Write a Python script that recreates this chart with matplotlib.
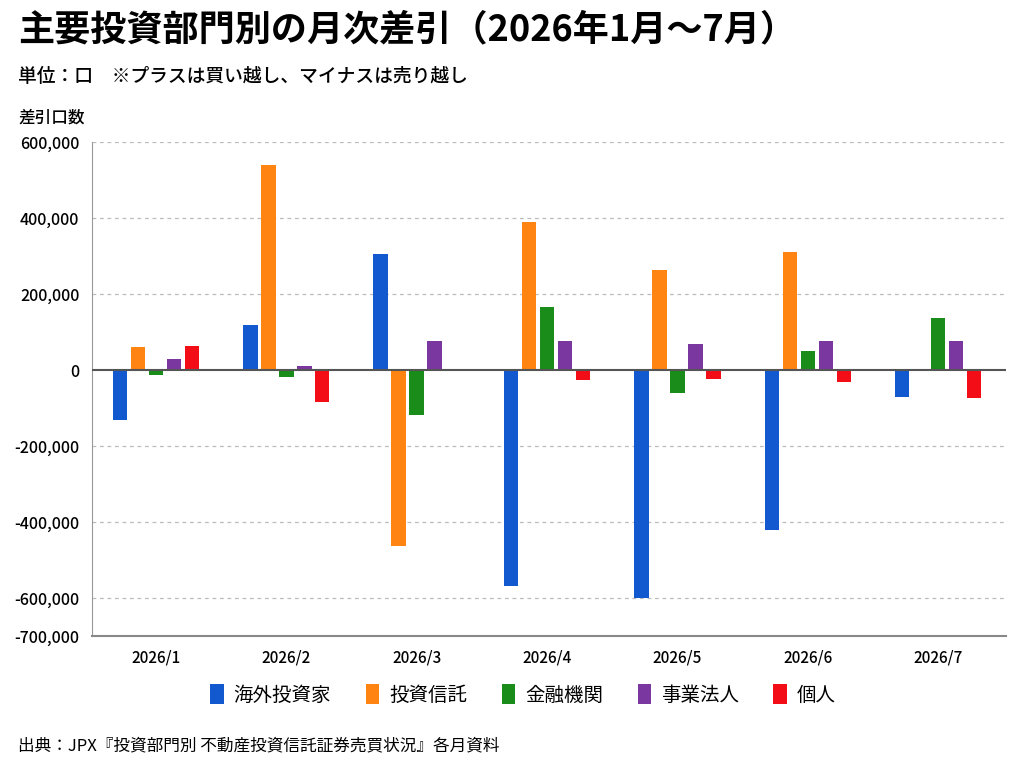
import numpy as np
import matplotlib
matplotlib.use('Agg')
import matplotlib.pyplot as plt

plt.rcParams['font.family'] = ['Noto Sans CJK JP', 'DejaVu Sans']

months = ['2026/1', '2026/2', '2026/3', '2026/4', '2026/5', '2026/6', '2026/7']
series_names = ['海外投資家', '投資信託', '金融機関', '事業法人', '個人']

foreign = [-130000, 119000, 305000, -568000, -600000, -421000, -71000]
trusts = [60000, 540000, -463000, 391000, 263000, 312000, 3000]
financial = [-13000, -17000, -118000, 167000, -61000, 51000, 137000]
corporate = [30000, 11000, 77000, 78000, 69000, 77000, 78000]
individual = [63000, -83000, 3000, -26000, -22000, -32000, -72000]

yticks = [600000, 400000, 200000, 0, -200000, -400000, -600000, -700000]

colors = ['#1259CF', '#FF8411', '#1A8C1A', '#7A37A0', '#F20D17']

fig = plt.figure(figsize=(10.24, 7.68), dpi=100)
ax = fig.add_axes([92 / 1024, 1 - 636 / 768, (1006 - 92) / 1024, (636 - 142.3) / 768])

x = np.arange(len(months))
step = 0.138
width = 0.111
data = [foreign, trusts, financial, corporate, individual]
for i, (vals, name, c) in enumerate(zip(data, series_names, colors)):
    ax.bar(x + (i - 2) * step, vals, width, color=c, label=name, zorder=3)

ax.set_xlim(-0.49, 6.52)
ax.set_ylim(-700000, 600000)
ax.set_yticks(yticks)
ax.set_yticklabels([f'{v:,}' for v in yticks], fontsize=11.5, fontweight='medium')
ax.set_xticks(x)
ax.set_xticklabels(months, fontsize=11, fontweight='medium')
ax.tick_params(axis='both', length=0)
ax.tick_params(axis='x', pad=10)
ax.tick_params(axis='y', pad=9)

for v in [600000, 400000, 200000, -200000, -400000, -600000]:
    ax.axhline(v, color='#bbbbbb', lw=0.9, ls=(0, (3, 3)), zorder=1)
ax.axhline(0, color='#555555', lw=1.5, zorder=4)

for s in ['top', 'right']:
    ax.spines[s].set_visible(False)
ax.spines['left'].set_color('#999999')
ax.spines['bottom'].set_color('#888888')
ax.spines['bottom'].set_linewidth(1.5)

fig.text(18 / 1024, 1 - 30 / 768, '主要投資部門別の月次差引（2026年1月～7月）',
         fontsize=26, fontweight='bold', va='center', ha='left')
fig.text(18 / 1024, 1 - 76 / 768, '単位：口　※プラスは買い越し、マイナスは売り越し',
         fontsize=13.5, fontweight='medium', va='center', ha='left')
fig.text(18 / 1024, 1 - 118 / 768, '差引口数', fontsize=12, fontweight='medium',
         va='center', ha='left')
fig.text(18 / 1024, 1 - 746 / 768, '出典：JPX『投資部門別 不動産投資信託証券売買状況』各月資料',
         fontsize=12, va='center', ha='left')

fig.legend(loc='center', bbox_to_anchor=(523 / 1024, 1 - 695 / 768), ncol=5,
           frameon=False, fontsize=14, handlelength=0.7, handleheight=1.2,
           handletextpad=0.5, columnspacing=1.78)

fig.savefig('out.png', dpi=100, facecolor='white')
